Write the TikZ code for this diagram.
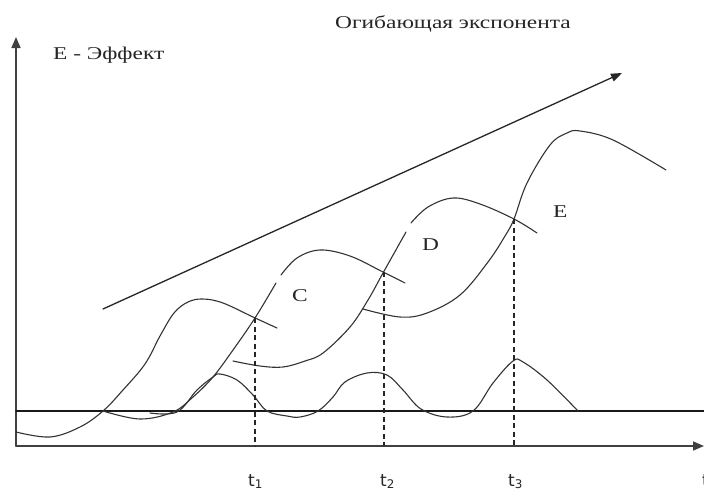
\documentclass[tikz,border=0pt]{standalone}
\usepackage{fontspec}
\setmainfont{Liberation Serif}
\newfontfamily\labelfont[FakeStretch=1.3]{Liberation Serif}
\newfontfamily\tfont{DejaVu Sans}
\usetikzlibrary{arrows.meta}
\begin{document}
\begin{tikzpicture}[x=1pt,y=-1pt, line cap=round, line join=round,
  curve/.style={draw=black!80, line width=1.1pt, smooth, tension=0.6},
  axis/.style={draw=black!75, line width=1.6pt, -{Triangle[length=11pt,width=9pt]}},
  arrowline/.style={draw=black!85, line width=1.3pt, -{Triangle[length=11pt,width=8pt]}},
  base/.style={draw=black!90, line width=1.1pt},
  guide/.style={draw=black!85, line width=1.1pt, dash pattern=on 5pt off 3.5pt, line cap=butt},
  lbl/.style={font=\labelfont\fontsize{18}{18}\selectfont, inner sep=0pt, anchor=base west, text=black!85},
  tlbl/.style={font=\tfont\fontsize{17}{17}\selectfont, inner sep=0pt, anchor=base west, text=black!85}]
\useasboundingbox (0,0) rectangle (704,496);
\fill[white] (0,0) rectangle (704,496);

% axes
\coordinate (O) at (16,446);
\coordinate (Ytop) at (16,37);
\coordinate (Xend) at (704,446);
\coordinate (B0) at (16,411);
\coordinate (B1) at (704,411);
\draw[axis] (O) -- (Ytop);
\draw[axis] (O) -- (Xend);
\draw[base] (B0) -- (B1);

% envelope arrow
\coordinate (E0) at (103,309);
\coordinate (E1) at (622,73);
\draw[arrowline] (E0) -- (E1);

% curve A
\draw[curve] plot coordinates {(16,432) (50,437) (80,427) (103,411) (123,390) (145,364) (160,336) (174,313) (188,302) (203,299) (223,303) (253,317) (277,328)};

% curve C
\draw[curve] plot coordinates {(103,411) (140,419) (173,412) (193,397) (213,377) (233,350) (255,318) (276,283)};
\draw[curve] plot coordinates {(281,275) (297,258) (320,250) (350,256) (383,272) (405,283)};

% curve D
\draw[curve] plot coordinates {(233,361) (260,366) (283,367) (305,361) (323,353) (350,327) (368,300) (383,273) (406,232)};
\draw[curve] plot coordinates {(411,223) (428,207) (453,198) (480,204) (514,219) (537,233)};

% curve E
\draw[curve] plot coordinates {(363,309) (400,317) (427,313) (460,295) (488,262) (505,236) (514,219) (527,183) (550,145) (567,133) (580,131) (613,140) (666,170)};

% pulses
\draw[curve] plot coordinates {(150,413) (177,412) (197,390) (213,377) (220,374) (237,380) (253,395) (267,411) (287,416) (300,417) (318,411) (333,397) (345,382) (367,373) (387,375) (403,390) (421,409) (447,417) (473,411) (493,383) (513,361) (523,362) (547,380) (578,411)};

% guide lines
\coordinate (T1) at (255,318);
\coordinate (T1b) at (255,446);
\coordinate (T2) at (384,272);
\coordinate (T2b) at (384,446);
\coordinate (T3) at (514,219);
\coordinate (T3b) at (514,446);
\draw[guide] (T1) -- (T1b);
\draw[guide] (T2) -- (T2b);
\draw[guide] (T3) -- (T3b);

% labels
\node[lbl] (title) at (335,28) {Огибающая экспонента};
\node[lbl] (ylab) at (53,59) {E - Эффект};
\node[lbl] (lc) at (292,301) {C};
\node[lbl] (ld) at (422,250) {D};
\node[lbl] (le) at (553,217) {E};
\node[tlbl] (t1) at (248,486) {t\textsubscript{1}};
\node[tlbl] (t2) at (380,486) {t\textsubscript{2}};
\node[tlbl] (t3) at (508,486) {t\textsubscript{3}};
\node[tlbl] (tx) at (702,486) {t};
\end{tikzpicture}
\end{document}
